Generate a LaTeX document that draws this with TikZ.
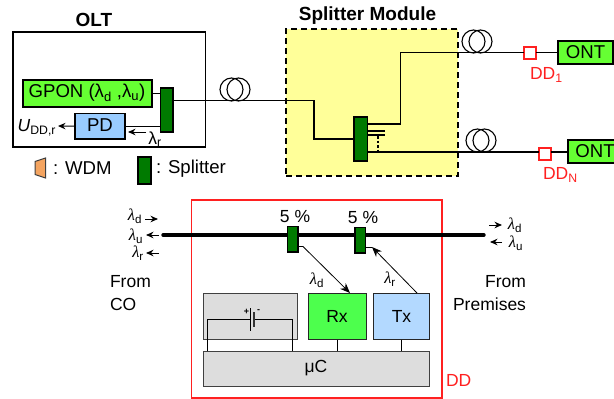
\documentclass[tikz,border=0pt]{standalone}
\usepackage{fontspec}
\setmainfont{Liberation Sans}
\newfontfamily\lamfont{Liberation Serif}
\usetikzlibrary{arrows.meta,calc}
\definecolor{gponG}{HTML}{66FF33}
\definecolor{rxG}{HTML}{4DFF4D}
\definecolor{pdB}{HTML}{99CCFF}
\definecolor{txB}{HTML}{B3D9FF}
\definecolor{splG}{HTML}{007A00}
\definecolor{modY}{HTML}{FFFF99}
\definecolor{wdmO}{HTML}{F4A460}
\definecolor{grayB}{HTML}{DDDDDD}
\definecolor{ddR}{HTML}{FF2020}
\newcommand{\bx}[7][]{\node[#2,anchor=north west,minimum width=#5pt-#4pt,minimum height=#7pt-#6pt,#1] (#3) at (#4,#6) {};}
\newcommand{\lam}[1]{{\lamfont\itshape\char"03BB}\textsubscript{#1}}
\newcommand{\rlam}[1]{\char"03BB\textsubscript{#1}}
\tikzset{
 x=1pt,y=-1pt,
 every node/.style={inner sep=0pt,outer sep=0pt,font=\fontsize{17.5}{20}\selectfont},
 big/.style={font=\fontsize{18.6}{21}\selectfont},
 wire/.style={line width=1.3pt,black},
 thin wire/.style={line width=0.9pt,black},
 arr/.style={line width=1pt,-{Stealth[length=7.5pt,width=6.5pt]}},
 darr/.style={line width=0.8pt,-{Stealth[length=10pt,width=8pt]}},
 frame/.style={draw=black,line width=1.2pt,fill=white},
 splitbox/.style={draw=black,line width=1.2pt,fill=splG},
 gponbox/.style={draw=black,line width=1.3pt,fill=gponG},
 pdbox/.style={draw=black,line width=1.2pt,fill=pdB},
 ddbox/.style={draw=ddR,line width=1.2pt,fill=white},
 graybox/.style={draw=black!75,line width=1pt,fill=grayB},
 modbox/.style={draw=black,line width=1.3pt,dash pattern=on 6pt off 4pt,fill=modY},
 coil/.style={draw=black,line width=1.1pt},
 ddtext/.style={text=ddR},
 titletext/.style={font=\fontsize{19}{22}\selectfont\bfseries},
 lamtext/.style={font=\fontsize{16.5}{18}\selectfont},
}
\begin{document}
\begin{tikzpicture}
\useasboundingbox (0,0) rectangle (614,399);
% frames
\bx{frame}{olt}{13}{205.5}{32}{147}
\bx{modbox}{mod}{286}{458}{29}{176}
\node[titletext] (olttitle) at (94,20) {OLT};
\node[titletext] (modtitle) at (367.5,16) {Splitter Module};
% OLT content
\bx{gponbox}{gpon}{23}{152}{80}{107}
\node[big] (gpontext) at (87,93) {GPON (\rlam{d} ,\rlam{u})};
\bx{splitbox}{oltsp}{160.5}{173}{88}{132}
\bx{pdbox}{pd}{75}{125}{113.5}{139}
\node[big] (pdtext) at (100,125) {PD};
\node[anchor=east] (uout) at (56,128) {{\itshape U}\textsubscript{DD,r}};
\node (lamr) at (155,139) {\rlam{r}};
\coordinate (lamrs) at (146,132);
\coordinate (lamre) at (128,132);
\coordinate (uend) at (58,126);
\draw[wire] (gpon.east) -- (oltsp.west |- gpon.east);
\draw[wire] (pd.east) -- (oltsp.west |- pd.east);
\draw[arr] (pd.west) -- (uend);
\draw[arr] (lamrs) -- (lamre);
% feeder fibre
\coordinate (bend1) at (314,100.5);
\coordinate (tap0) at (354,139);
\bx{splitbox}{modsp}{354}{367.5}{117}{161}
\draw[wire] (oltsp.east |- bend1) -- (bend1) |- (tap0);
\foreach \cx in {231.5,238.5} \draw[coil] (\cx,89.5) circle (11.5);
% outputs
\bx{ddbox}{dda}{524}{536}{47}{59}
\bx{gponbox}{onta}{558}{613}{41}{64}
\node[big] (ontatext) at (585.5,52) {ONT};
\bx{ddbox}{ddb}{539}{551}{148}{160}
\bx{gponbox}{ontb}{568}{620}{140}{163}
\node[big] (ontbtext) at (595,151) {ONT};
\coordinate (t1) at (367.5,124);
\coordinate (t1b) at (400.5,124);
\coordinate (t1c) at (400.5,52.5);
\draw[wire] (t1) -- (t1b) -- (t1c) -- (dda.west |- t1c);
\draw[wire] (dda.east |- t1c) -- (onta.west |- t1c);
\coordinate (t2) at (367.5,152);
\draw[wire] (t2) -- (ddb.west |- t2);
\draw[wire] (ddb.east |- t2) -- (ontb.west |- t2);
\coordinate (t3) at (367.5,131);
\coordinate (t3e) at (385,131);
\coordinate (t4) at (367.5,135);
\coordinate (t4e) at (385,135);
\draw[wire] (t3) -- (t3e);
\draw[wire] (t4) -- (t4e);
\draw[wire,dash pattern=on 2.5pt off 2pt] (378,136) -- (378,152);
\foreach \cx in {473.5,480.5} \draw[coil] (\cx,41.5) circle (11.5);
\foreach \cx in {477.5,484.5} \draw[coil] (\cx,140.5) circle (11.5);
\node[ddtext,anchor=west] (ddalabel) at (530,75) {DD\textsubscript{1}};
\node[ddtext,anchor=west] (ddblabel) at (543,175) {DD\textsubscript{N}};
% legend
\draw[draw=black!75,line width=1pt,fill=wdmO] (45.5,158) -- (45.5,178) -- (35,174.5) -- (35,161.5) -- cycle;
\node[big,anchor=west] (wdmtext) at (53,168) {: WDM};
\bx{splitbox}{legsp}{138}{151}{157}{184}
\node[big,anchor=west] (spltext) at (156,169) {: Splitter};
% DD detail
\bx{ddbox}{ddframe}{191.5}{442}{200}{398}
\node[ddtext,anchor=west] (ddtext) at (446,380) {DD};
\coordinate (busl) at (163,235);
\coordinate (busr) at (484,235);
\draw[line width=3.4pt,line cap=round] (busl) -- (busr);
\bx{splitbox}{s1}{287.5}{298}{226.5}{252}
\bx{splitbox}{s2}{355}{365.5}{227.5}{253}
\node (p1) at (295,217) {5 \%};
\node (p2) at (363,218) {5 \%};
% blocks
\bx{graybox}{batt}{203}{297}{293}{339.5}
\bx[draw=black!85,line width=1pt,fill=rxG]{pdbox}{rx}{308}{366.5}{293}{339.5}
\node (rxtext) at (337,316) {Rx};
\bx[draw=black!85,line width=1pt,fill=txB]{pdbox}{tx}{373.5}{429}{293}{339.5}
\node (txtext) at (401.5,316) {Tx};
\bx{graybox}{uc}{203}{429.5}{351}{386}
\node (uctext) at (316,368) {\char"03BC C};
\draw[thin wire] (rx.south) -- (rx.south |- uc.north);
\draw[thin wire] (tx.south) -- (tx.south |- uc.north);
% battery
\coordinate (ba) at (207,319.5);
\coordinate (bb) at (292.5,319.5);
\coordinate (pa) at (250,319.5);
\coordinate (pb) at (254,319.5);
\draw[thin wire] (ba |- uc.north) -- (ba) -- (pa);
\draw[thin wire] (bb |- uc.north) -- (bb) -- (pb);
\draw[line width=0.9pt,black] (250,308) -- (250,331);
\draw[line width=1.8pt,black!80] (254,312) -- (254,327);
\node[font=\fontsize{9}{9}\selectfont\bfseries] (bplus) at (246.5,312) {+};
\node[font=\fontsize{9}{9}\selectfont\bfseries] (bminus) at (258.5,311.5) {-};
% tap arrows
\coordinate (a1) at (303,246.5);
\coordinate (a2) at (350,293);
\coordinate (b1) at (417,293);
\coordinate (b2) at (372,247);
\draw[darr] (s1.east |- a1) -- (a1) -- (a2);
\draw[line width=0.8pt] (s2.east |- b2) -- (b2);
\draw[darr] (b1) -- (b2);
\node[lamtext] (ld) at (317,280) {\lam{d}};
\node[lamtext] (lr) at (390,279) {\lam{r}};
% left labels
\node[lamtext] (ldl) at (135,216) {\lam{d}};
\node[lamtext] (lul) at (136,236) {\lam{u}};
\node[lamtext] (lrl) at (138,253) {\lam{r}};
\coordinate (la1) at (145,219); \coordinate (la2) at (158,219);
\coordinate (lb1) at (159,235); \coordinate (lb2) at (146,235);
\coordinate (lc1) at (159,253); \coordinate (lc2) at (146,253);
\draw[arr] (la1) -- (la2);
\draw[arr] (lb1) -- (lb2);
\draw[arr] (lc1) -- (lc2);
\node[anchor=west] (fromco) at (110,282) {From};
\node[anchor=west] (co) at (110,304) {CO};
% right labels
\node[lamtext] (ldr) at (515,225) {\lam{d}};
\node[lamtext] (lur) at (516,243) {\lam{u}};
\coordinate (ra1) at (489,225); \coordinate (ra2) at (502,225);
\coordinate (rb1) at (502,242); \coordinate (rb2) at (490,242);
\draw[arr] (ra1) -- (ra2);
\draw[arr] (rb1) -- (rb2);
\node[anchor=east] (fromr) at (526,282) {From};
\node[anchor=east] (prem) at (526,304) {Premises};
\end{tikzpicture}
\end{document}
